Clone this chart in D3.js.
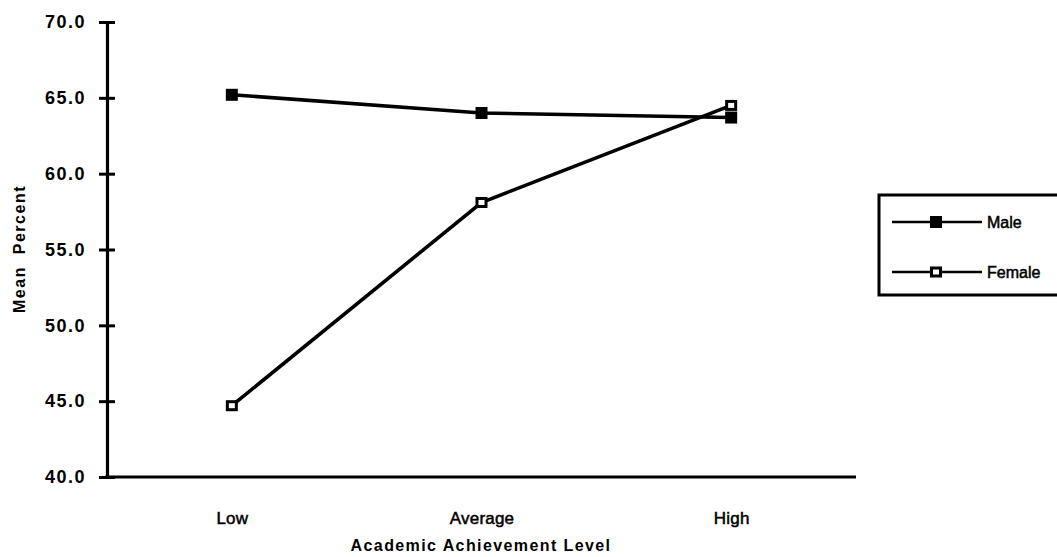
<!DOCTYPE html>
<html>
<head>
<meta charset="utf-8">
<script src="https://cdn.jsdelivr.net/npm/d3@7"></script>
<style>
  body { margin: 0; background: #fff; }
  svg { display: block; font-family: "Liberation Sans", Arial, sans-serif; }
</style>
</head>
<body>
<div id="chart"></div>
<script>
// Data
const categories = ['Low', 'Average', 'High'];
const maleValues = [65.2, 64.0, 63.7];
const femaleValues = [44.7, 58.1, 64.5];
const yTicks = [40, 45, 50, 55, 60, 65, 70];
const seriesNames = ['Male', 'Female'];

const W = 1057, H = 557;

const svg = d3.select('#chart').append('svg')
    .attr('width', W)
    .attr('height', H);

// Scales
const x = d3.scalePoint()
    .domain(categories)
    .range([107, 856])
    .padding(0.5);

const y = d3.scaleLinear()
    .domain([40, 70])
    .range([477, 22]);

// Y axis
const yAxis = d3.axisLeft(y)
    .tickValues(yTicks)
    .tickFormat(d3.format('.1f'))
    .tickSizeInner(7)
    .tickSizeOuter(0)
    .tickPadding(14);

const yAxisG = svg.append('g')
    .attr('transform', 'translate(107,0)')
    .call(yAxis);

yAxisG.select('.domain').attr('stroke', '#000').attr('stroke-width', 3.2);
yAxisG.selectAll('.tick line')
    .attr('x1', -8).attr('x2', 8)
    .attr('stroke', '#000').attr('stroke-width', 3);
yAxisG.selectAll('.tick text')
    .attr('x', -21)
    .style('font-size', '18px')
    .style('font-weight', 'bold')
    .style('letter-spacing', '1.5px')
    .attr('fill', '#000');

// X axis
const xAxis = d3.axisBottom(x)
    .tickSize(0)
    .tickPadding(35)
    .tickSizeOuter(0);

const xAxisG = svg.append('g')
    .attr('transform', 'translate(0,477)')
    .call(xAxis);

xAxisG.select('.domain')
    .attr('d', 'M105,0H856')
    .attr('stroke', '#000').attr('stroke-width', 3.2);
xAxisG.selectAll('.tick text')
    .style('font-size', '17px')
    .style('letter-spacing', '0.2px')
    .attr('fill', '#000')
    .attr('stroke', '#000')
    .attr('stroke-width', 0.5);

// Axis titles
svg.append('text')
    .attr('x', 481)
    .attr('y', 551)
    .attr('text-anchor', 'middle')
    .style('font-size', '16px')
    .style('font-weight', 'bold')
    .style('letter-spacing', '1.4px')
    .text('Academic Achievement Level');

svg.append('text')
    .attr('transform', 'translate(25,249) rotate(-90)')
    .attr('text-anchor', 'middle')
    .style('font-size', '16px')
    .style('font-weight', 'bold')
    .style('letter-spacing', '1.5px')
    .attr('xml:space', 'preserve')
    .text('Mean  Percent');

// Lines
const line = d3.line()
    .x((d, i) => x(categories[i]))
    .y(d => y(d));

const series = [
    { name: seriesNames[0], values: maleValues, filled: true },
    { name: seriesNames[1], values: femaleValues, filled: false }
];

series.forEach(s => {
    svg.append('path')
        .datum(s.values)
        .attr('d', line)
        .attr('fill', 'none')
        .attr('stroke', '#000')
        .attr('stroke-width', 3.6);
});

function drawMarker(g, cx, cy, filled) {
    if (filled) {
        g.append('rect')
            .attr('x', cx - 6).attr('y', cy - 6)
            .attr('width', 12).attr('height', 12)
            .attr('fill', '#000');
    } else {
        g.append('rect')
            .attr('x', cx - 4.5).attr('y', cy - 4)
            .attr('width', 9).attr('height', 8)
            .attr('fill', '#fff')
            .attr('stroke', '#000')
            .attr('stroke-width', 3);
    }
}

series.forEach(s => {
    const g = svg.append('g');
    s.values.forEach((v, i) => drawMarker(g, x(categories[i]), y(v), s.filled));
});

// Legend
const legend = svg.append('g');
legend.append('rect')
    .attr('x', 879).attr('y', 195)
    .attr('width', 190).attr('height', 100)
    .attr('fill', 'none')
    .attr('stroke', '#000')
    .attr('stroke-width', 3);

series.forEach((s, i) => {
    const ly = 222 + i * 50;
    legend.append('line')
        .attr('x1', 892).attr('x2', 982)
        .attr('y1', ly).attr('y2', ly)
        .attr('stroke', '#000')
        .attr('stroke-width', 2.4);
    drawMarker(legend, 936, ly, s.filled);
    legend.append('text')
        .attr('x', 987)
        .attr('y', ly + 6)
        .style('font-size', '16px')
        .attr('stroke', '#000')
        .attr('stroke-width', 0.5)
        .text(s.name);
});
</script>
</body>
</html>
